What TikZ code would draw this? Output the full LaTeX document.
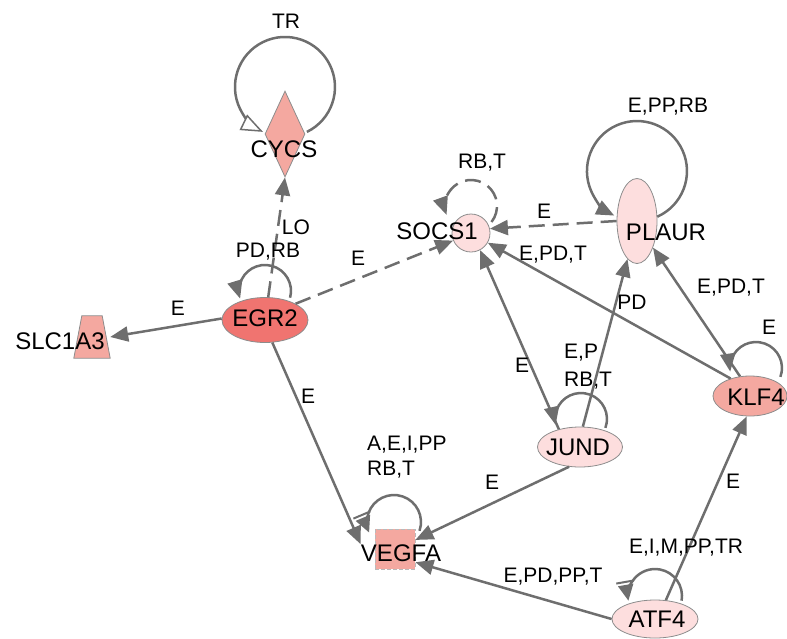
\documentclass[tikz,border=0pt]{standalone}
\usepackage{fontspec}
\setmainfont{Liberation Sans}
\usetikzlibrary{arrows.meta,shapes.geometric,calc}
\definecolor{lgray}{HTML}{6E6E6E}
\definecolor{bgray}{HTML}{8C8C8C}
\definecolor{pinkf}{HTML}{FDDEDE}
\definecolor{salm}{HTML}{F4A8A0}
\definecolor{redf}{HTML}{F07470}
\begin{document}
\begin{tikzpicture}[x=1pt,y=1pt,
  gene/.style={draw=bgray, line width=0.8pt, inner sep=0pt},
  nlab/.style={font=\fontsize{24}{28}\selectfont, inner sep=0pt},
  elab/.style={font=\fontsize{21}{25}\selectfont, inner sep=0pt},
  rel/.style={draw=lgray, line width=2.5pt, -{Triangle[length=18pt,width=15pt]}},
  drel/.style={rel, dash pattern=on 16pt off 8pt},
  barrel/.style={draw=lgray, line width=2.5pt, -{Bar[width=18pt,line width=2pt,sep=2pt]Triangle[length=16pt,width=15pt]}},
  openrel/.style={draw=lgray, line width=2.5pt, -{Triangle[length=22pt,width=17pt,fill=white,line width=1.5pt]}},
]
\useasboundingbox (0,0) rectangle (787,-638);
% genes
\node[gene, diamond, fill=salm, minimum width=40pt, minimum height=86pt, aspect=0.47] (cycs) at (285,-134) {};
\node[gene, ellipse, fill=redf, minimum width=86pt, minimum height=45pt] (egr2) at (265,-320) {};
\node[minimum width=36pt, minimum height=42pt, inner sep=0pt] (slc) at (92,-337) {};
\draw[gene, fill=salm] (slc.south west) -- (slc.south east) -- ($(slc.north east)+(-8,0)$) -- ($(slc.north west)+(8,0)$) -- cycle;
\node[gene, circle, fill=pinkf, minimum size=38pt] (socs1) at (471,-233) {};
\node[gene, ellipse, fill=pinkf, minimum width=40pt, minimum height=85pt] (plaur) at (637,-221) {};
\node[gene, ellipse, fill=salm, minimum width=74pt, minimum height=40pt] (klf4) at (750,-396) {};
\node[gene, ellipse, fill=pinkf, minimum width=85pt, minimum height=40pt] (jund) at (580,-447) {};
\node[draw=bgray!60, dash pattern=on 4pt off 2pt, line width=0.8pt, fill=salm, minimum size=40pt, inner sep=0pt] (vegfa) at (395,-549) {};
\node[gene, ellipse, fill=pinkf, minimum width=86pt, minimum height=38pt] (atf4) at (655,-619) {};
% gene labels
\node[nlab] (cycs-t) at (284,-149) {CYCS};
\node[nlab] (egr2-t) at (265,-318) {EGR2};
\node[nlab] (slc-t) at (60,-341) {SLC1A3};
\node[nlab] (socs1-t) at (437,-231) {SOCS1};
\node[nlab] (plaur-t) at (666,-232) {PLAUR};
\node[nlab] (klf4-t) at (756,-397) {KLF4};
\node[nlab] (jund-t) at (578,-447) {JUND};
\node[nlab] (vegfa-t) at (401,-553) {VEGFA};
\node[nlab] (atf4-t) at (657,-619) {ATF4};
% relations
\draw[drel] (egr2.82) -- (cycs.south);
\draw[rel] (egr2.178) -- (slc.east);
\draw[drel] (egr2.28) -- (socs1.203);
\draw[rel] (egr2.-72) -- (vegfa-t.north west);
\draw[rel] (jund.-119) -- (vegfa.24);
\draw[rel] (atf4.180) -- (vegfa.-33);
\draw[rel] (atf4.60) -- (klf4.-99);
\draw[rel] (jund.140) -- (socs1.-62);
\draw[rel] (jund.82) -- (plaur.-104);
\draw[rel] (klf4.117) -- (plaur.-59);
\draw[rel] (klf4.138) -- (socs1.-30);
\draw[drel] (plaur.180) -- (socs1.13);
% self loops
\draw[openrel] ($(cycs)+(21.9,2.1)$) arc[start angle=-64, end angle=244, radius=50pt];
\draw[rel] ($(egr2)+(25.1,22.3)$) arc[start angle=-15, end angle=197, radius=26pt];
\draw[drel] ($(socs1)+(20.5,11.0)$) arc[start angle=-38, end angle=200, radius=26pt];
\draw[rel] ($(plaur)+(20.3,4.3)$) arc[start angle=-66, end angle=243, radius=50pt];
\draw[rel] ($(klf4)+(30.4,19.1)$) arc[start angle=-20, end angle=188, radius=26pt];
\draw[rel] ($(jund)+(25.4,19.1)$) arc[start angle=-20, end angle=193, radius=26pt];
\draw[barrel] ($(vegfa)+(24.5,18.2)$) arc[start angle=-19, end angle=203, radius=27pt];
\draw[barrel] ($(atf4)+(26.6,18.3)$) arc[start angle=-10, end angle=190, radius=27pt];
% relation labels
\node[elab] (l-tr) at (286,-21) {TR};
\node[elab] (l-lo) at (296,-227) {LO};
\node[elab] (l-pdrb) at (268,-252) {PD,RB};
\node[elab] (l-slc) at (178,-308) {E};
\node[elab] (l-es) at (358,-258) {E};
\node[elab] (l-rbt) at (482,-163) {RB,T};
\node[elab] (l-ps) at (544,-211) {E};
\node[elab] (l-epprb) at (668,-107) {E,PP,RB};
\node[elab] (l-ks) at (553,-255) {E,PD,T};
\node[elab] (l-pd) at (632,-302) {PD};
\node[elab] (l-kp) at (731,-288) {E,PD,T};
\node[elab] (l-kl) at (769,-327) {E};
\node[elab] (l-js) at (522,-365) {E};
\node[elab, anchor=west] (l-ep) at (564,-353) {E,P};
\node[elab, anchor=west] (l-jrbt) at (564,-381) {RB,T};
\node[elab] (l-jv) at (492,-482) {E};
\node[elab, anchor=west] (l-aeipp) at (367,-445) {A,E,I,PP};
\node[elab, anchor=west] (l-vrbt) at (367,-470) {RB,T};
\node[elab] (l-ev) at (308,-396) {E};
\node[elab] (l-av) at (553,-577) {E,PD,PP,T};
\node[elab] (l-atl) at (686,-548) {E,I,M,PP,TR};
\node[elab] (l-ak) at (733,-481) {E};
\end{tikzpicture}
\end{document}
